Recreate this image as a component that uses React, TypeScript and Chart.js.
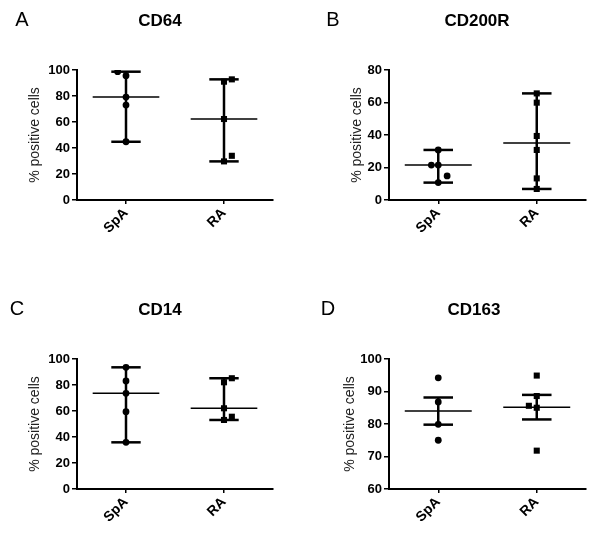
import React, { useEffect, useRef } from 'react';
import { Chart, registerables } from 'chart.js';

Chart.register(...registerables);
Chart.defaults.font.family = '"Liberation Sans", Arial, sans-serif';

// ---------- data ----------
const groups = ['SpA', 'RA'];
const yTitle = '% positive cells';

// A: CD64 (median with range)
const cd64SpA = [98.7, 95.6, 79.2, 73.0, 44.8];
const cd64SpAJitter = [-0.085, 0, 0, 0, 0];
const cd64RA = [92.8, 91.0, 62.3, 34.0, 29.7];
const cd64RAJitter = [0.08, 0, 0, 0.08, 0];
const cd64Ticks = [0, 20, 40, 60, 80, 100];

// B: CD200R (median with range)
const cd200rSpA = [30.8, 21.5, 21.5, 14.8, 10.7];
const cd200rSpAJitter = [0, -0.07, 0, 0.09, 0];
const cd200rRA = [65.6, 59.9, 39.4, 30.8, 13.3, 6.8];
const cd200rRAJitter = [0, 0, 0, 0, 0, 0];
const cd200rTicks = [0, 20, 40, 60, 80];

// C: CD14 (median with range)
const cd14SpA = [93.6, 83.1, 73.6, 59.5, 35.9];
const cd14SpAJitter = [0, 0, 0, 0, 0];
const cd14RA = [85.2, 82.1, 62.1, 55.6, 53.1];
const cd14RAJitter = [0.08, 0, 0, 0.08, 0];
const cd14Ticks = [0, 20, 40, 60, 80, 100];

// D: CD163 (mean with SEM)
const cd163SpA = [94.2, 86.8, 79.9, 75.0];
const cd163SpAJitter = [0, 0, 0, 0];
const cd163RA = [94.9, 88.6, 85.6, 85.0, 71.8];
const cd163RAJitter = [0, 0, -0.08, 0, 0];
const cd163Ticks = [60, 70, 80, 90, 100];

// ---------- stats ----------
const median = (a: number[]) => {
  const s = [...a].sort((p, q) => p - q);
  const m = Math.floor(s.length / 2);
  return s.length % 2 ? s[m] : (s[m - 1] + s[m]) / 2;
};
const mean = (a: number[]) => a.reduce((s, v) => s + v, 0) / a.length;
const sem = (a: number[]) => {
  const m = mean(a);
  const v = a.reduce((s, x) => s + (x - m) * (x - m), 0) / (a.length - 1);
  return Math.sqrt(v) / Math.sqrt(a.length);
};
const medianRange = (a: number[]) => ({ c: median(a), lo: Math.min(...a), hi: Math.max(...a) });
const meanSem = (a: number[]) => { const m = mean(a); const e = sem(a); return { c: m, lo: m - e, hi: m + e }; };

type Panel = {
  letter: string; title: string;
  spa: number[]; spaJ: number[]; ra: number[]; raJ: number[];
  ticks: number[]; stat: (a: number[]) => { c: number; lo: number; hi: number };
  left: number; top: number; h: number; padLeft: number; yWidth: number; padRight: number;
  letterX: number; titleX: number;
};

const panels: Panel[] = [
  { letter: 'A', title: 'CD64', spa: cd64SpA, spaJ: cd64SpAJitter, ra: cd64RA, raJ: cd64RAJitter, ticks: cd64Ticks, stat: medianRange,
    left: 0, top: 0, h: 260, padLeft: 27, yWidth: 50, padRight: 27, letterX: 22, titleX: 160 },
  { letter: 'B', title: 'CD200R', spa: cd200rSpA, spaJ: cd200rSpAJitter, ra: cd200rRA, raJ: cd200rRAJitter, ticks: cd200rTicks, stat: medianRange,
    left: 300, top: 0, h: 260, padLeft: 49, yWidth: 40, padRight: 14, letterX: 33, titleX: 177 },
  { letter: 'C', title: 'CD14', spa: cd14SpA, spaJ: cd14SpAJitter, ra: cd14RA, raJ: cd14RAJitter, ticks: cd14Ticks, stat: medianRange,
    left: 0, top: 289, h: 246, padLeft: 27, yWidth: 50, padRight: 27, letterX: 17, titleX: 160 },
  { letter: 'D', title: 'CD163', spa: cd163SpA, spaJ: cd163SpAJitter, ra: cd163RA, raJ: cd163RAJitter, ticks: cd163Ticks, stat: meanSem,
    left: 300, top: 289, h: 246, padLeft: 42, yWidth: 47, padRight: 14, letterX: 28, titleX: 174 },
];

const MED_W = 0.34;
const CAP_W = 0.15;

function seg(x1: number, y1: number, x2: number, y2: number, w: number) {
  return {
    data: [{ x: x1, y: y1 }, { x: x2, y: y2 }],
    showLine: true, borderColor: '#000', borderWidth: w, pointRadius: 0, borderCapStyle: 'butt', order: 2,
  };
}

function barSets(x: number, s: { c: number; lo: number; hi: number }) {
  return [
    seg(x - MED_W, s.c, x + MED_W, s.c, 1.5),
    seg(x, s.lo, x, s.hi, 2.5),
    seg(x - CAP_W, s.lo, x + CAP_W, s.lo, 2.5),
    seg(x - CAP_W, s.hi, x + CAP_W, s.hi, 2.5),
  ];
}

function ChartPanel({ p }: { p: Panel }) {
  const ref = useRef<HTMLCanvasElement>(null);
  useEffect(() => {
    if (!ref.current) return;
    const spaPts = p.spa.map((v, i) => ({ x: 0 + p.spaJ[i], y: v }));
    const raPts = p.ra.map((v, i) => ({ x: 1 + p.raJ[i], y: v }));
    const yMin = p.ticks[0];
    const yMax = p.ticks[p.ticks.length - 1];
    const step = p.ticks[1] - p.ticks[0];
    const chart = new Chart(ref.current, {
      type: 'scatter',
      data: {
        datasets: [
          { data: spaPts, pointStyle: 'circle', pointRadius: 3.4, backgroundColor: '#000', borderColor: '#000', borderWidth: 0, order: 1 },
          { data: raPts, pointStyle: 'rect', pointRadius: 4.3, backgroundColor: '#000', borderColor: '#000', borderWidth: 0, order: 1 },
          ...barSets(0, p.stat(p.spa)),
          ...barSets(1, p.stat(p.ra)),
        ] as any,
      },
      options: {
        responsive: false,
        animation: false,
        events: [],
        layout: { padding: { left: p.padLeft, right: p.padRight, top: 70, bottom: 0 } },
        plugins: { legend: { display: false }, tooltip: { enabled: false }, title: { display: false } },
        scales: {
          x: {
            type: 'linear', min: -0.5, max: 1.5,
            afterBuildTicks: (s: any) => { s.ticks = groups.map((_, i) => ({ value: i })); },
            afterFit: (s: any) => { s.height = p.h - 200; },
            ticks: {
              callback: (v: any) => groups[v] ?? '',
              minRotation: 45, maxRotation: 45, autoSkip: false,
              font: { size: 14, weight: 'bold' }, color: '#000', padding: 1,
            },
            grid: { drawOnChartArea: false, drawTicks: true, tickLength: 4, color: '#000', lineWidth: 1.5 },
            border: { display: true, color: '#000', width: 2 },
          },
          y: {
            type: 'linear', min: yMin, max: yMax,
            afterFit: (s: any) => { s.width = p.yWidth; },
            ticks: { stepSize: step, font: { size: 13, weight: 'bold' }, color: '#000', padding: 2 },
            grid: { drawOnChartArea: false, drawTicks: true, tickLength: 5, color: '#000', lineWidth: 1.5 },
            border: { display: true, color: '#000', width: 2 },
            title: { display: true, text: yTitle, font: { size: 14 }, color: '#222', padding: 0 },
          },
        },
      } as any,
    });
    return () => chart.destroy();
  }, [p]);

  const fontFam = '"Liberation Sans", Arial, sans-serif';
  return (
    <div style={{ position: 'absolute', left: p.left, top: p.top, width: 300, height: p.h }}>
      <canvas ref={ref} width={300} height={p.h} style={{ display: 'block', width: 300, height: p.h }} />
      <div style={{ position: 'absolute', left: p.letterX - 30, width: 60, top: 19 - 10, height: 20, lineHeight: '20px',
        fontSize: 20, fontFamily: fontFam, textAlign: 'center', color: '#000' }}>{p.letter}</div>
      <div style={{ position: 'absolute', left: p.titleX - 60, width: 120, top: 20 - 8, height: 17, lineHeight: '17px',
        fontSize: 17, fontWeight: 'bold', fontFamily: fontFam, textAlign: 'center', color: '#000' }}>{p.title}</div>
    </div>
  );
}

export default function App() {
  return (
    <div style={{ position: 'absolute', left: 0, top: 0, width: 600, height: 535, background: '#fff', overflow: 'hidden' }}>
      {panels.map((p) => <ChartPanel key={p.letter} p={p} />)}
    </div>
  );
}
